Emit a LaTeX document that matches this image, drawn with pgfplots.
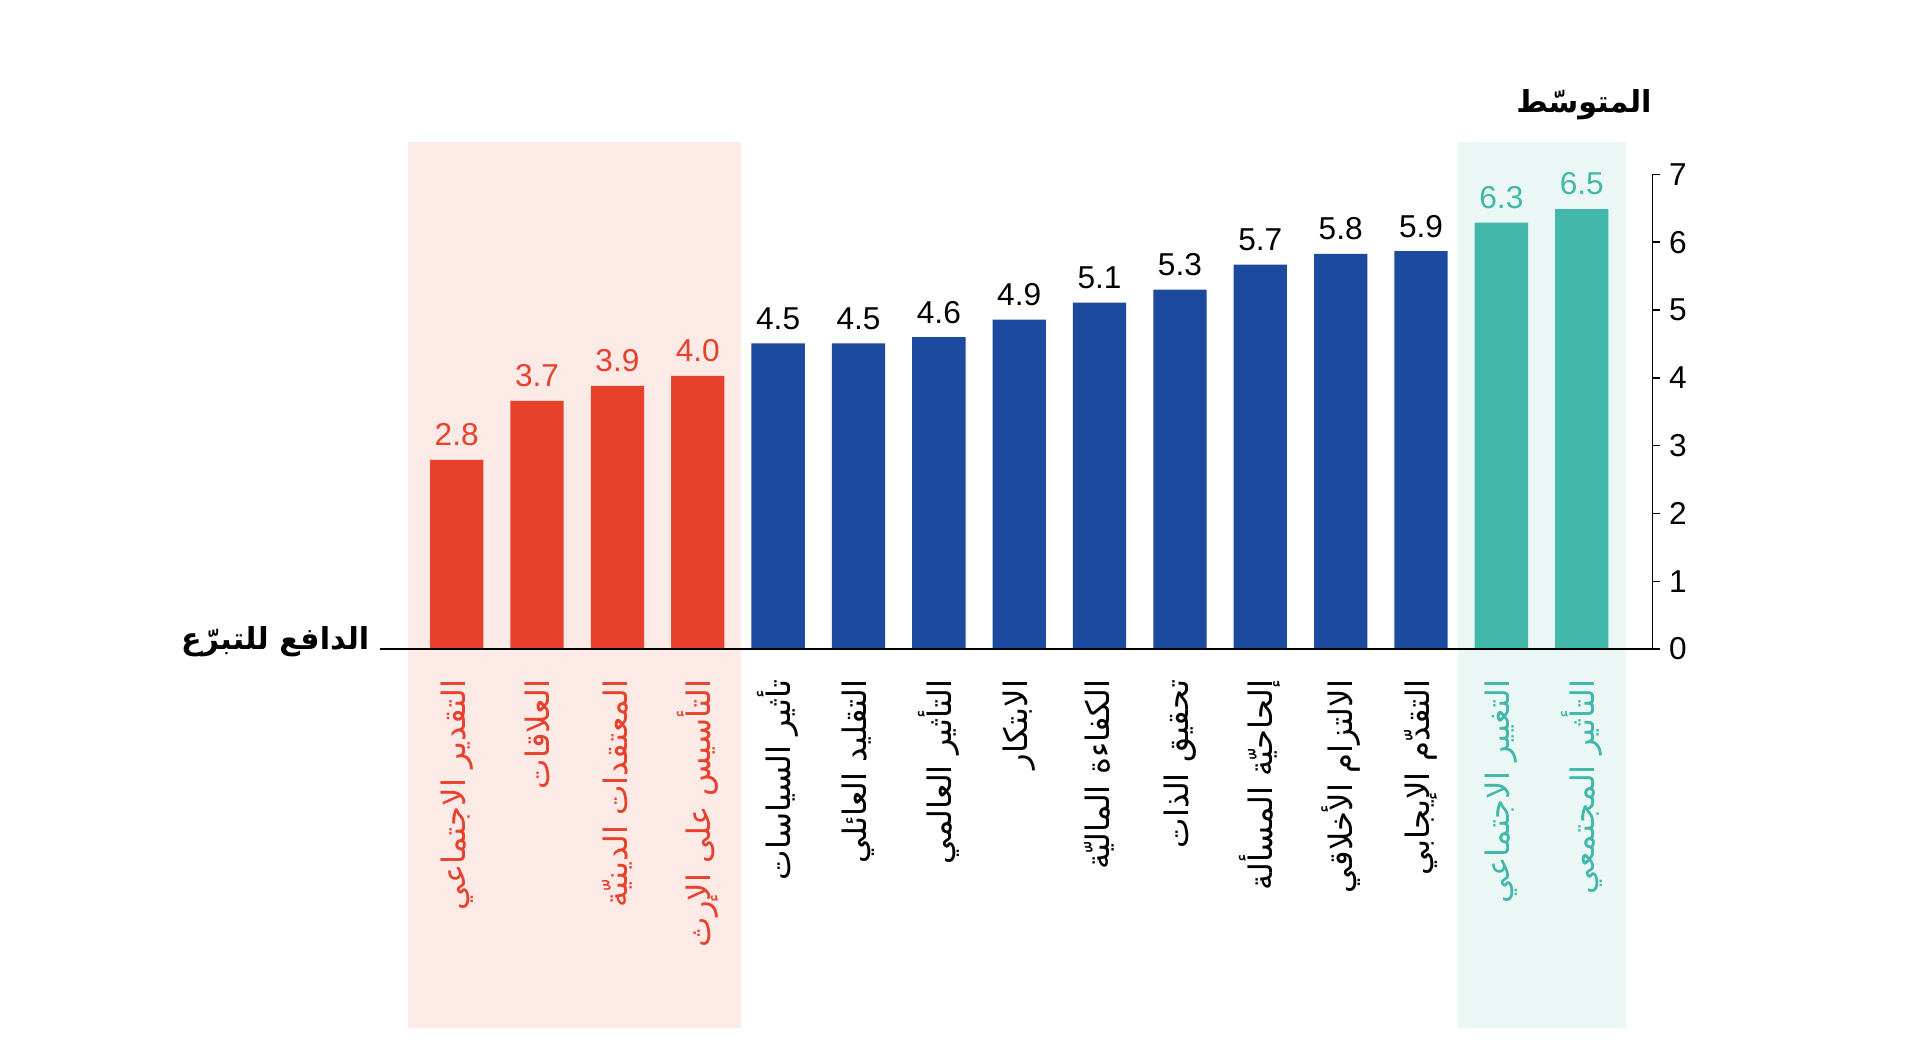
\documentclass[border=0pt]{standalone}
\usepackage{pgfplots}
\pgfplotsset{compat=1.18}
\usepackage{fontspec}
\setmainfont{Liberation Sans}
\newfontfamily\arabicfont[Script=Arabic]{DejaVu Sans}
\TeXXeTstate=1

\definecolor{barred}{HTML}{E8412B}
\definecolor{barblue}{HTML}{1B4A9F}
\definecolor{barteal}{HTML}{41B8AA}
\definecolor{shadered}{HTML}{FCEAE7}
\definecolor{shadeteal}{HTML}{EAF7F5}

% x, bar height, printed value
\pgfplotstableread{
x  y     v
0  2.79  2.8
1  3.66  3.7
2  3.88  3.9
3  4.03  4.0
}\redbars
\pgfplotstableread{
x   y     v
4   4.51  4.5
5   4.51  4.5
6   4.60  4.6
7   4.86  4.9
8   5.11  5.1
9   5.30  5.3
10  5.67  5.7
11  5.83  5.8
12  5.87  5.9
}\bluebars
\pgfplotstableread{
x   y     v
13  6.29  6.3
14  6.49  6.5
}\tealbars

\begin{document}
\begin{tikzpicture}
\begin{axis}[
    scale only axis,
    width=127.23mm,
    height=47.47mm,
    xmin=-0.954, xmax=14.878,
    ymin=0, ymax=7,
    clip=false,
    axis on top,
    axis x line*=bottom,
    axis y line*=right,
    axis line style={-, line width=0.45pt, black},
    ytick={0,...,7},
    tick align=outside,
    major tick length=0.8mm,
    ytick style={line width=0.45pt, black},
    xtick style={draw=none},
    /pgf/number format/assume math mode=true,
    yticklabel style={font=\fontsize{9}{10}\selectfont, inner sep=0pt, xshift=0.8mm},
    xtick={0,...,14},
    xticklabels={
      {\color{barred}\arabicfont\beginR التقدير الاجتماعي\endR},
      {\color{barred}\arabicfont\beginR العلاقات\endR},
      {\color{barred}\arabicfont\beginR المعتقدات الدينيّة\endR},
      {\color{barred}\arabicfont\beginR التأسيس على الإرث\endR},
      {\arabicfont\beginR تأثير السياسات\endR},
      {\arabicfont\beginR التقليد العائلي\endR},
      {\arabicfont\beginR التأثير العالمي\endR},
      {\arabicfont\beginR الابتكار\endR},
      {\arabicfont\beginR الكفاءة الماليّة\endR},
      {\arabicfont\beginR تحقيق الذات\endR},
      {\arabicfont\beginR إلحاحيّة المسألة\endR},
      {\arabicfont\beginR الالتزام الأخلاقي\endR},
      {\arabicfont\beginR التقدّم الإيجابي\endR},
      {\color{barteal}\arabicfont\beginR التغيير الاجتماعي\endR},
      {\color{barteal}\arabicfont\beginR التأثير المجتمعي\endR}
    },
    xticklabel style={rotate=90, anchor=east, inner sep=0pt,
      font=\fontsize{9.2}{10}\selectfont},
    xticklabel shift=2.2mm,
    nodes near coords={\pgfmathprintnumber[fixed,fixed zerofill,precision=1]{\pgfplotspointmeta}},
    every node near coord/.append style={font=\fontsize{9}{10}\selectfont,
      anchor=south, inner sep=0pt, yshift=1.3mm},
]

% shaded groups
\addplot[fill=shadered, draw=none, nodes near coords={}] coordinates
  {(-0.61,-5.585) (3.54,-5.585) (3.54,7.48) (-0.61,7.48)} -- cycle;
\addplot[fill=shadeteal, draw=none, nodes near coords={}] coordinates
  {(12.46,-5.585) (14.55,-5.585) (14.55,7.48) (12.46,7.48)} -- cycle;

\addplot[ybar, bar width=5.33mm, fill=barred, draw=none,
  point meta=explicit, every node near coord/.append style={text=barred}]
  table[x=x, y=y, meta=v] {\redbars};
\addplot[ybar, bar width=5.33mm, fill=barblue, draw=none,
  point meta=explicit, every node near coord/.append style={text=black}]
  table[x=x, y=y, meta=v] {\bluebars};
\addplot[ybar, bar width=5.33mm, fill=barteal, draw=none,
  point meta=explicit, every node near coord/.append style={text=barteal}]
  table[x=x, y=y, meta=v] {\tealbars};

% axis titles
\node[anchor=base east, inner sep=0pt, font=\bfseries\fontsize{8.6}{10}\selectfont]
  at (axis description cs:0,0) [xshift=-1mm] {\arabicfont\beginR الدافع للتبرّع\endR};
\node[anchor=base east, inner sep=0pt, font=\bfseries\fontsize{8.6}{10}\selectfont]
  at (axis cs:14.878,7.92) {\arabicfont\beginR المتوسّط\endR};

% page frame
\path (axis cs:-5.683,-5.959) rectangle (axis cs:18.209,9.572);
\end{axis}
\end{tikzpicture}
\end{document}
